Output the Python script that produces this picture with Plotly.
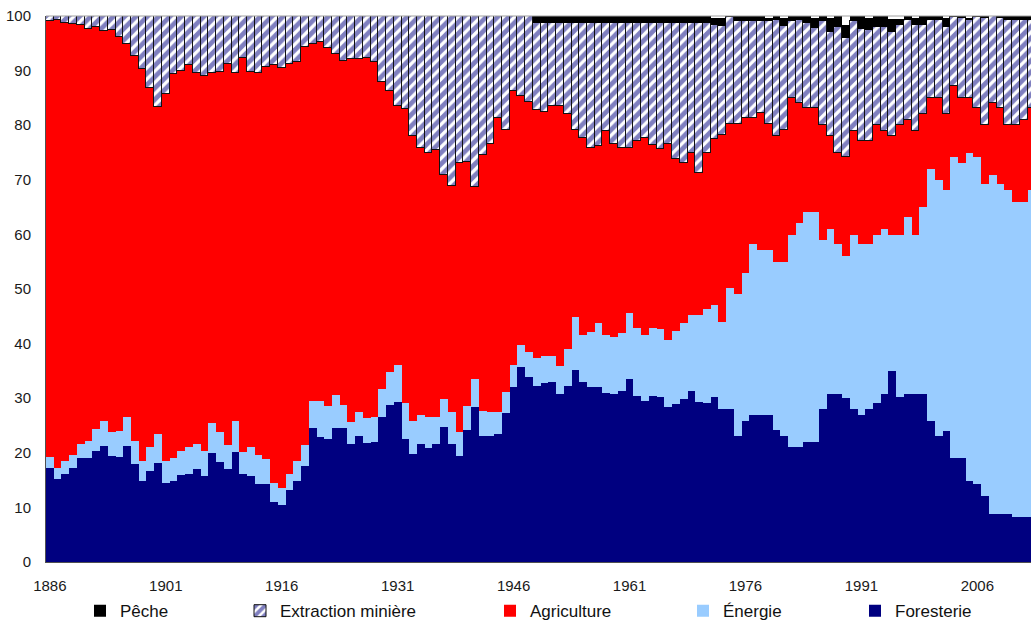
import numpy as np
import plotly.graph_objects as go

# ---------------- data (cumulative shares, %) ----------------
years = list(range(1886, 2014))

# top of the "Foresterie" segment (= Foresterie share)
top_foresterie = [
    17.3, 15.2, 16.2, 17.3, 19.0, 19.0, 20.4, 21.2, 19.4, 19.2,   # 1886-1895
    21.2, 18.0, 14.8, 16.7, 18.1, 14.4, 14.8, 16.0, 16.2, 17.0,   # 1896-1905
    15.7, 19.9, 18.3, 17.0, 20.1, 16.2, 15.7, 14.2, 14.2, 10.9,   # 1906-1915
    10.5, 13.1, 14.9, 17.5, 24.6, 22.9, 22.5, 24.6, 24.5, 21.7,   # 1916-1925
    23.0, 21.8, 22.0, 26.5, 28.8, 29.3, 22.5, 19.7, 21.6, 20.8,   # 1926-1935
    21.6, 24.8, 21.6, 19.4, 24.1, 28.3, 23.1, 23.1, 23.5, 27.3,   # 1936-1945
    32.0, 35.8, 33.9, 32.2, 32.8, 33.0, 30.7, 32.2, 35.1, 33.0,   # 1946-1955
    32.0, 32.0, 31.0, 30.7, 31.4, 33.5, 30.4, 29.4, 30.4, 30.2,   # 1956-1965
    28.4, 28.9, 29.9, 31.4, 29.3, 29.1, 30.2, 28.1, 28.1, 23.1,   # 1966-1975
    25.8, 26.9, 26.9, 26.9, 24.1, 23.0, 21.0, 21.0, 22.0, 22.0,   # 1976-1985
    28.0, 30.8, 30.8, 30.1, 28.1, 27.0, 28.0, 29.1, 30.8, 35.0,   # 1986-1995
    30.2, 30.8, 30.8, 30.8, 25.8, 23.0, 24.0, 19.1, 19.1, 14.8,   # 1996-2005
    14.2, 12.0, 8.8, 8.8, 8.8, 8.2, 8.2, 8.2,                     # 2006-2013
]

# top of the "Énergie" segment
top_energie = [
    19.3, 17.3, 18.5, 19.6, 21.7, 22.2, 24.4, 25.9, 23.9, 24.0,
    26.5, 22.2, 18.5, 21.1, 23.5, 18.5, 19.1, 20.4, 21.1, 21.7,
    20.4, 25.4, 23.9, 21.4, 25.8, 20.1, 21.1, 19.6, 18.8, 14.4,
    13.6, 16.2, 18.5, 21.4, 29.5, 29.5, 28.6, 30.6, 28.8, 25.6,
    27.5, 26.3, 26.5, 31.7, 34.8, 36.1, 29.1, 25.8, 26.9, 26.5,
    26.5, 29.9, 27.5, 23.9, 28.6, 33.5, 27.6, 27.5, 27.5, 31.2,
    36.1, 39.7, 38.4, 37.4, 37.7, 37.7, 35.9, 39.1, 44.8, 41.6,
    42.2, 43.7, 41.6, 41.2, 42.0, 45.6, 42.9, 41.6, 42.9, 42.7,
    40.7, 42.4, 43.8, 45.3, 45.3, 46.4, 47.1, 44.0, 50.1, 49.0,
    52.9, 58.2, 57.2, 57.2, 55.0, 55.0, 59.9, 62.1, 64.1, 64.1,
    59.0, 61.0, 58.2, 56.1, 59.9, 58.2, 58.2, 59.9, 61.0, 59.9,
    59.9, 63.1, 59.9, 65.0, 72.0, 69.9, 68.2, 74.1, 73.1, 75.0,
    74.1, 69.2, 70.9, 69.2, 68.1, 66.0, 66.0, 68.1,
]

# top of the "Agriculture" segment
top_agriculture = [
    99.1, 99.3, 98.7, 98.6, 98.3, 97.7, 97.9, 97.2, 97.5, 96.1,
    94.8, 92.6, 90.3, 86.8, 83.4, 85.7, 89.3, 90.0, 91.1, 89.5,
    89.1, 89.5, 89.8, 91.2, 89.5, 92.3, 89.8, 89.5, 90.7, 91.0,
    90.4, 91.3, 91.6, 94.4, 94.8, 95.2, 94.2, 93.1, 91.8, 92.2,
    92.2, 92.3, 91.6, 87.9, 86.3, 83.5, 83.0, 78.0, 75.9, 75.0,
    75.4, 70.9, 68.8, 73.0, 73.3, 68.6, 74.5, 76.5, 81.4, 79.1,
    86.3, 85.3, 84.2, 82.7, 82.4, 83.6, 83.6, 82.0, 79.2, 77.6,
    75.9, 76.1, 78.9, 76.6, 75.9, 75.9, 77.1, 77.7, 76.3, 75.6,
    76.6, 73.8, 73.1, 74.9, 71.3, 75.0, 77.4, 78.2, 80.3, 80.3,
    81.4, 81.4, 82.3, 80.3, 78.1, 79.1, 85.0, 84.0, 83.2, 83.2,
    80.1, 78.0, 75.0, 74.1, 79.0, 77.1, 77.1, 80.1, 79.0, 78.0,
    80.1, 81.0, 79.0, 82.0, 85.0, 85.0, 82.0, 87.1, 85.0, 85.0,
    83.2, 80.1, 84.0, 83.2, 80.1, 80.1, 81.0, 83.2,
]

# top of the "Extraction minière" segment
top_extraction = (
    [100.0] * 63                                                  # 1886-1948
    + [98.8] * 23                                                 # 1949-1971
    + [98.4, 98.1, 99.9, 99.0, 99.0, 99.0, 99.0, 99.1, 99.3,      # 1972-1980
       98.1, 99.1, 99.3, 98.7, 97.8, 99.0, 97.1, 98.0, 96.0,      # 1981-1989
       99.0, 97.7, 97.4, 98.0, 98.0, 97.1, 98.3, 99.3, 98.3,      # 1990-1998
       98.3, 99.3, 99.3, 98.0, 99.9, 99.6, 99.3, 99.9, 99.6,      # 1999-2007
       100.0, 99.6, 99.3, 99.3, 99.3, 99.3]                       # 2008-2013
)

# top of the "Pêche" segment (total of all sectors)
top_peche = (
    [100.0] * 86                                                  # 1886-1971
    + [99.6, 99.6, 100.0, 100.0, 100.0, 100.0, 100.0, 99.7, 100.0,  # 1972-1980
       99.7, 100.0, 100.0, 100.0, 99.7, 100.0, 99.7, 100.0, 98.4,   # 1981-1989
       100.0, 100.0, 99.7, 100.0, 100.0, 99.5, 99.5, 100.0, 99.7,   # 1990-1998
       100.0, 100.0, 100.0, 99.7, 100.0, 100.0, 99.7, 100.0, 100.0, # 1999-2007
       100.0, 100.0, 100.0, 100.0, 100.0, 100.0]                    # 2008-2013
)

tick_years = [1886, 1901, 1916, 1931, 1946, 1961, 1976, 1991, 2006]
y_ticks = [0, 10, 20, 30, 40, 50, 60, 70, 80, 90, 100]

# segment shares derived from the read boundaries
F = np.array(top_foresterie)
E = np.array(top_energie)
A = np.array(top_agriculture)
H = np.array(top_extraction)
P = np.array(top_peche)
foresterie = F
energie = E - F
agriculture = A - E
extraction = H - A
peche = P - H

FONT = "Liberation Sans, Arial, sans-serif"

fig = go.Figure()
fig.add_trace(go.Bar(x=years, y=foresterie, name="Foresterie", legend="legend5",
                     marker=dict(color="#000080", line=dict(width=0))))
fig.add_trace(go.Bar(x=years, y=energie, name="Énergie", legend="legend4",
                     marker=dict(color="#99CCFF", line=dict(width=0))))
fig.add_trace(go.Bar(x=years, y=agriculture, name="Agriculture", legend="legend3",
                     marker=dict(color="#FF0000", line=dict(width=0))))
fig.add_trace(go.Bar(x=years, y=extraction, name="Extraction minière", legend="legend2",
                     marker=dict(color="white",
                                 pattern=dict(shape="/", fgcolor="#000080", bgcolor="white",
                                              size=8, solidity=0.6),
                                 line=dict(color="#111111", width=1))))
fig.add_trace(go.Bar(x=years, y=peche, name="Pêche", legend="legend",
                     marker=dict(color="#000000", line=dict(width=0))))

plot_left, plot_w = 46, 985


def lx(px):
    return (px - plot_left) / plot_w


leg_common = dict(orientation="h", yanchor="middle", y=-0.09, xanchor="left",
                  font=dict(family=FONT, size=17, color="#111111"),
                  bgcolor="rgba(0,0,0,0)", borderwidth=0)

fig.update_layout(
    width=1031, height=620,
    margin=dict(l=46, r=0, t=16, b=58, autoexpand=False),
    paper_bgcolor="white", plot_bgcolor="white",
    barmode="stack", bargap=0,
    font=dict(family=FONT, size=15, color="#1a1a1a"),
    legend=dict(x=lx(80), **leg_common),
    legend2=dict(x=lx(240), **leg_common),
    legend3=dict(x=lx(490), **leg_common),
    legend4=dict(x=lx(683), **leg_common),
    legend5=dict(x=lx(855), **leg_common),
    xaxis=dict(range=[1885.5, 1885.5 + 985 / 7.729], tickmode="array",
               tickvals=tick_years, ticktext=[str(t) for t in tick_years],
               showgrid=False, zeroline=False, showline=True, linecolor="#505050",
               linewidth=1, ticks="", ticklabelstandoff=10, automargin=False,
               tickfont=dict(family=FONT, size=15, color="#1a1a1a")),
    yaxis=dict(range=[0, 100], tickmode="array", tickvals=y_ticks,
               showgrid=False, zeroline=False, showline=True, linecolor="#505050",
               linewidth=1, ticks="", ticklabelstandoff=11, automargin=False,
               tickfont=dict(family=FONT, size=15, color="#1a1a1a")),
    shapes=[dict(type="line", xref="paper", yref="paper", x0=0, x1=1, y0=1, y1=1,
                 line=dict(color="#A0A0A0", width=1))],
    showlegend=True,
)

fig.write_html(
    "out.html",
    config={"displayModeBar": False},
    post_script="document.body.style.margin='0';document.body.style.overflow='hidden';",
)
